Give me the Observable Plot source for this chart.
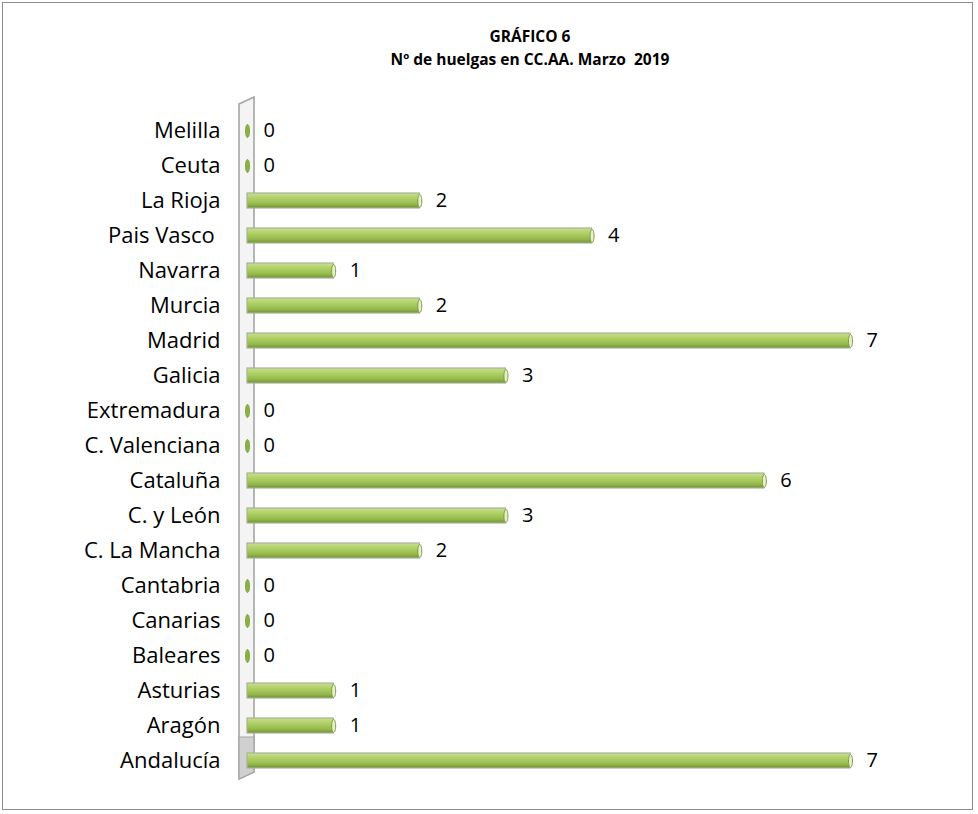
<!DOCTYPE html>
<html>
<head>
<meta charset="utf-8">
<script src="https://cdn.jsdelivr.net/npm/d3@7"></script>
<script src="https://cdn.jsdelivr.net/npm/@observablehq/plot@0.6"></script>
<style>
  html, body { margin: 0; padding: 0; background: #fff; }
  #frame { position: absolute; left: 2px; top: 2px; width: 971px; height: 808px; border: 1.5px solid #8c8c8c; box-sizing: border-box; }
  #title { position: absolute; left: 0; top: 25px; width: 1060px; text-align: center; font-family: "Open Sans", sans-serif; font-weight: bold; font-size: 15.5px; line-height: 23px; color: #000; }
  #chart { position: absolute; left: 0; top: 85px; }
</style>
</head>
<body>
<div id="frame"></div>
<div id="title">GRÁFICO 6<br>Nº de huelgas en CC.AA. Marzo&nbsp; 2019</div>
<div id="chart"></div>
<script>
const regions = ["Melilla", "Ceuta", "La Rioja", "Pais Vasco ", "Navarra", "Murcia", "Madrid", "Galicia", "Extremadura", "C. Valenciana", "Cataluña", "C. y León", "C. La Mancha", "Cantabria", "Canarias", "Baleares", "Asturias", "Aragón", "Andalucía"];
const huelgas = [0, 0, 2, 4, 1, 2, 7, 3, 0, 0, 6, 3, 2, 0, 0, 0, 1, 1, 7];

const data = regions.map((r, i) => ({region: r, value: huelgas[i]}));

// Ellipse symbol for the bar end caps
const ellipse = {
  draw(ctx, size) {
    const rx = 2, ry = 6.5, k = 0.5523;
    ctx.moveTo(0, -ry);
    ctx.bezierCurveTo(rx * k, -ry, rx, -ry * k, rx, 0);
    ctx.bezierCurveTo(rx, ry * k, rx * k, ry, 0, ry);
    ctx.bezierCurveTo(-rx * k, ry, -rx, ry * k, -rx, 0);
    ctx.bezierCurveTo(-rx, -ry * k, -rx * k, -ry, 0, -ry);
    ctx.closePath();
  }
};

// Decorative 3D wall behind the axis, derived from the scales
function wall(index, scales, values, dimensions, context) {
  const x0 = scales.x(0);
  const [yTop, yBot] = [dimensions.marginTop, dimensions.height - dimensions.marginBottom];
  const g = d3.create("svg:g");
  const l = x0 - 8, r = x0 + 7;
  g.append("path")
    .attr("d", `M${l},${yTop - 8}L${r},${yTop - 15}L${r},${yBot - 7}L${l},${yBot}Z`)
    .attr("fill", "#f4f4f4").attr("stroke", "#a6a6a6").attr("stroke-width", 1.6);
  g.append("path")
    .attr("d", `M${l},${yBot - 42}L${l},${yBot}L${r},${yBot - 7}L${r},${yBot - 42}Z`)
    .attr("fill", "#d0d0d0").attr("stroke", "#a6a6a6").attr("stroke-width", 1.2);
  return g.node();
}

const chart = Plot.plot({
  width: 978,
  height: 712,
  marginLeft: 247,
  marginRight: 128,
  marginTop: 27,
  marginBottom: 18,
  style: { fontFamily: "Open Sans, sans-serif", fontSize: "22px", color: "#000", background: "transparent", overflow: "visible" },
  x: { domain: [0, 7], axis: null },
  y: { domain: regions, paddingInner: 0.58, paddingOuter: 0.29, align: 0.5, label: null, axis: null },
  marks: [
    () => {
      const svg = d3.create("svg:defs");
      const lg = svg.append("linearGradient").attr("id", "barGrad").attr("x1", 0).attr("x2", 0).attr("y1", 0).attr("y2", 1);
      lg.append("stop").attr("offset", "0%").attr("stop-color", "#c9e08f");
      lg.append("stop").attr("offset", "35%").attr("stop-color", "#b0d066");
      lg.append("stop").attr("offset", "75%").attr("stop-color", "#94b84c");
      lg.append("stop").attr("offset", "100%").attr("stop-color", "#6f9130");
      return svg.node();
    },
    wall,
    Plot.barX(data, { x: "value", y: "region", fill: "url(#barGrad)", stroke: "#a9b39a", strokeWidth: 1.2 }),
    Plot.dot(data, { x: "value", y: "region", symbol: ellipse, r: 3, fill: "#e6f0cf", stroke: "#7c9a3c", strokeWidth: 1 }),
    Plot.dot(data.filter(d => d.value === 0), { x: "value", y: "region", symbol: ellipse, r: 3, fill: "#8ab043", stroke: "none" }),
    Plot.text(data, { x: "value", y: "region", text: d => String(d.value), dx: 16, textAnchor: "start", fontSize: 20, fill: "#000" }),
    Plot.axisY({ tickSize: 0, tickPadding: 27, fontSize: 22, label: null })
  ]
});
document.getElementById("chart").appendChild(chart);
</script>
</body>
</html>
